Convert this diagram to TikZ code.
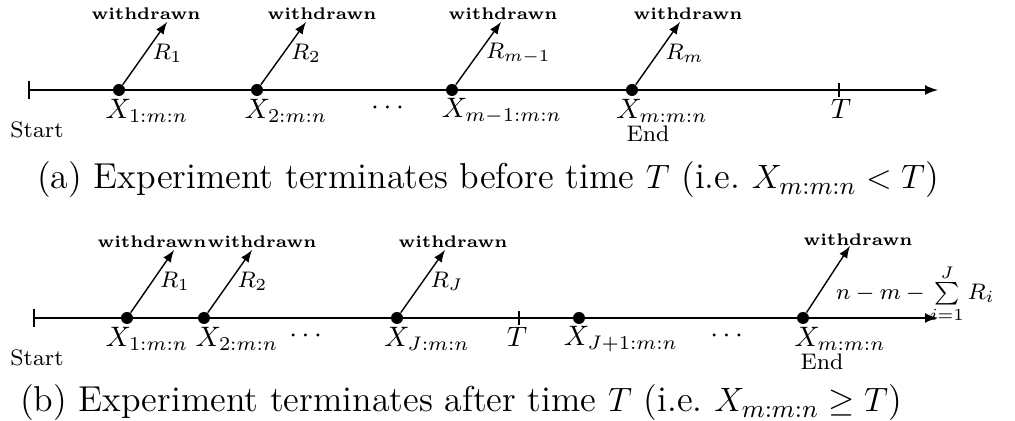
\documentclass[tikz,border=0pt]{standalone}
\usepackage{amsmath}
\usetikzlibrary{arrows,positioning}

\begin{document}
\begin{tikzpicture}[
  x=0.0125cm, y=-0.0125cm,
  axis/.style={|-latex, line width=0.6pt},
  obs/.style={circle, fill=black, inner sep=0pt, minimum size=0.15cm},
  wd/.style={-latex, line width=0.5pt},
  wdlabel/.style={font=\fontsize{6}{7}\selectfont\bfseries, inner sep=0pt},
  rlabel/.style={font=\footnotesize, inner sep=2.5pt},
  xlabel/.style={inner sep=0pt},
  tlabel/.style={font=\footnotesize, inner sep=0pt},
  caption/.style={font=\fontsize{12.8}{15}\selectfont, inner sep=0pt}
]
\useasboundingbox (0,0) rectangle (1015,421);

% (a) experiment terminates before T
\coordinate (sa) at (28,90);
\coordinate (ea) at (938,90);
\coordinate (ta) at (839,90);
\draw[axis] (sa) -- (ea);
\draw[line width=0.6pt] ([yshift=-2.5pt]ta) -- ([yshift=2.5pt]ta);

\node[obs] (a1) at (119,90) {};
\node[obs] (a2) at (257,90) {};
\node[obs] (a3) at (452,90) {};
\node[obs] (a4) at (632,90) {};

\coordinate (a1t) at ([shift={(48,-68)}]a1);
\coordinate (a2t) at ([shift={(49,-68)}]a2);
\coordinate (a3t) at ([shift={(49,-68)}]a3);
\coordinate (a4t) at ([shift={(48,-68)}]a4);

\draw[wd] (a1) -- (a1t) node[midway, right, rlabel] {$R_1$};
\draw[wd] (a2) -- (a2t) node[midway, right, rlabel] {$R_2$};
\draw[wd] (a3) -- (a3t) node[midway, right, rlabel] {$R_{m-1}$};
\draw[wd] (a4) -- (a4t) node[midway, right, rlabel] {$R_m$};

\node[wdlabel] (wa1) at (146,14) {withdrawn};
\node[wdlabel] (wa2) at (322,14) {withdrawn};
\node[wdlabel] (wa3) at (503,14) {withdrawn};
\node[wdlabel] (wa4) at (688,14) {withdrawn};

\node[xlabel] (xa1) at (147,111) {$X_{1:m:n}$};
\node[xlabel] (xa2) at (286,111) {$X_{2:m:n}$};
\node[xlabel] (dota) at (390,108) {$\cdots$};
\node[xlabel] (xa3) at (502,111) {$X_{m-1:m:n}$};
\node[xlabel] (xa4) at (662,111) {$X_{m:m:n}$};
\node[xlabel] (Ta) at (841,109) {$T$};
\node[tlabel] (starta) at (37,130) {Start};
\node[tlabel] (enda) at (648,134) {End};

\node[caption] (capa) at (488,180) {(a) Experiment terminates before time $T$ (i.e.\ $X_{m:m:n}<T$)};

% (b) experiment terminates after T
\coordinate (sb) at (33,318);
\coordinate (eb) at (938,318);
\coordinate (tb) at (519,318);
\draw[axis] (sb) -- (eb);
\draw[line width=0.6pt] ([yshift=-2.5pt]tb) -- ([yshift=2.5pt]tb);

\node[obs] (b1) at (127,318) {};
\node[obs] (b2) at (204,318) {};
\node[obs] (b3) at (397,318) {};
\node[obs] (b4) at (579,318) {};
\node[obs] (b5) at (803,318) {};

\coordinate (b1t) at ([shift={(47,-68)}]b1);
\coordinate (b2t) at ([shift={(48,-68)}]b2);
\coordinate (b3t) at ([shift={(48,-68)}]b3);
\coordinate (b5t) at ([shift={(47,-72)}]b5);

\draw[wd] (b1) -- (b1t) node[midway, right, rlabel] {$R_1$};
\draw[wd] (b2) -- (b2t) node[midway, right, rlabel] {$R_2$};
\draw[wd] (b3) -- (b3t) node[midway, right, rlabel] {$R_J$};
\draw[wd] (b5) -- (b5t) node[midway, right, rlabel, yshift=-5pt] {$n-m-\sum\limits_{i=1}^{J}R_i$};

\node[wdlabel] (wb1) at (152,242) {withdrawn};
\node[wdlabel] (wb2) at (262,242) {withdrawn};
\node[wdlabel] (wb3) at (453,242) {withdrawn};
\node[wdlabel] (wb5) at (858,240) {withdrawn};

\node[xlabel] (xb1) at (147,339) {$X_{1:m:n}$};
\node[xlabel] (xb2) at (237,339) {$X_{2:m:n}$};
\node[xlabel] (dotb1) at (308,336) {$\cdots$};
\node[xlabel] (xb3) at (427,339) {$X_{J:m:n}$};
\node[xlabel] (Tb) at (517,337) {$T$};
\node[xlabel] (xb4) at (621,339) {$X_{J+1:m:n}$};
\node[xlabel] (dotb2) at (729,336) {$\cdots$};
\node[xlabel] (xb5) at (840,339) {$X_{m:m:n}$};
\node[tlabel] (startb) at (37,358) {Start};
\node[tlabel] (endb) at (822,362) {End};

\node[caption] (capb) at (461,403) {(b) Experiment terminates after time $T$ (i.e.\ $X_{m:m:n}\geq T$)};
\end{tikzpicture}
\end{document}
